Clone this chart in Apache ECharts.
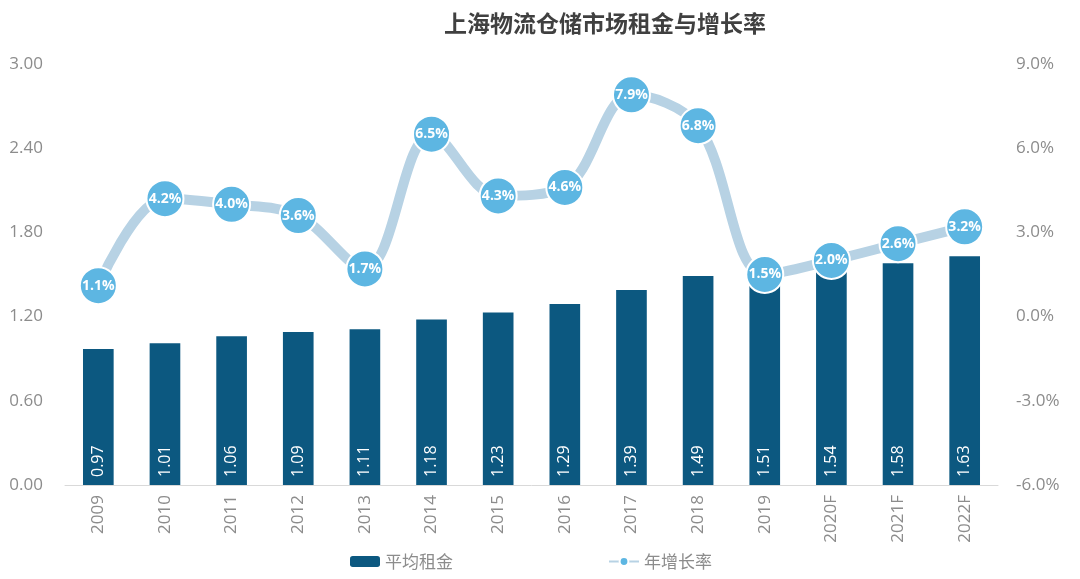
<!DOCTYPE html>
<html>
<head>
<meta charset="utf-8">
<script src="https://cdn.jsdelivr.net/npm/echarts@6/dist/echarts.min.js"></script>
<style>
  html, body { margin: 0; padding: 0; background: #fff; }
  #main { width: 1080px; height: 579px; }
</style>
</head>
<body>
<div id="main"></div>
<script>
var years = ['2009', '2010', '2011', '2012', '2013', '2014', '2015', '2016', '2017', '2018', '2019', '2020F', '2021F', '2022F'];
var rentValues = [0.97, 1.01, 1.06, 1.09, 1.11, 1.18, 1.23, 1.29, 1.39, 1.49, 1.51, 1.54, 1.58, 1.63];
var growthValues = [1.1, 4.2, 4.0, 3.6, 1.7, 6.5, 4.3, 4.6, 7.9, 6.8, 1.5, 2.0, 2.6, 3.2];

var chart = echarts.init(document.getElementById('main'));
var font = '"Open Sans", "Noto Sans CJK SC", sans-serif';

chart.setOption({
    animation: false,
    title: {
        text: '上海物流仓储市场租金与增长率',
        left: 439,
        top: 7,
        textStyle: { fontFamily: '"Noto Sans CJK SC", sans-serif', fontSize: 23, fontWeight: 'bold', color: '#404040' }
    },
    legend: {
        bottom: 4,
        left: 345,
        itemGap: 155,
        itemWidth: 30,
        itemHeight: 11,
        textStyle: { fontFamily: '"Noto Sans CJK SC", sans-serif', fontSize: 17, color: '#8c8c8c' },
        data: ['平均租金', '年增长率']
    },
    grid: { left: 65, right: 82, top: 64, bottom: 94 },
    xAxis: {
        type: 'category',
        data: years,
        axisLine: { lineStyle: { color: '#d9d9d9' } },
        axisTick: { show: false },
        axisLabel: { rotate: 90, margin: 10, fontFamily: font, fontSize: 17, color: '#8c8c8c' }
    },
    yAxis: [{
        type: 'value',
        min: 0,
        max: 3,
        interval: 0.6,
        splitLine: { show: false },
        axisLabel: { margin: 22, fontFamily: font, fontSize: 17, color: '#8c8c8c',
            formatter: function (v) { return v.toFixed(2); } }
    }, {
        type: 'value',
        min: -6,
        max: 9,
        interval: 3,
        splitLine: { show: false },
        axisLabel: { margin: 18, fontFamily: font, fontSize: 17, color: '#8c8c8c',
            formatter: function (v) { return v.toFixed(1) + '%'; } }
    }],
    series: [{
        name: '平均租金',
        type: 'bar',
        data: rentValues,
        barWidth: '46%',
        itemStyle: { color: '#0c5880' },
        label: {
            show: true,
            position: 'insideBottom',
            rotate: 90,
            align: 'left',
            verticalAlign: 'middle',
            distance: 8,
            fontFamily: font,
            fontSize: 16,
            color: '#fff',
            formatter: function (p) { return p.value.toFixed(2); }
        }
    }, {
        name: '年增长率',
        type: 'line',
        yAxisIndex: 1,
        data: growthValues,
        smooth: 0.35,
        symbol: 'circle',
        symbolSize: 37,
        lineStyle: { color: '#b7d2e4', width: 10 },
        itemStyle: { color: '#5db6e2', borderColor: '#fff', borderWidth: 2 },
        label: {
            show: true,
            position: 'inside',
            fontFamily: font,
            fontSize: 14,
            fontWeight: 'bold',
            color: '#fff',
            formatter: function (p) { return p.value.toFixed(1) + '%'; }
        },
        z: 5
    }]
});
</script>
</body>
</html>
